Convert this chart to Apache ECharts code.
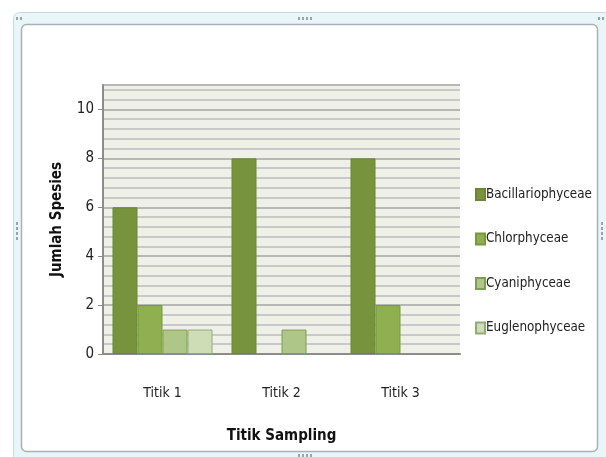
<!DOCTYPE html>
<html><head><meta charset="utf-8">
<script src="https://cdn.jsdelivr.net/npm/echarts@6/dist/echarts.min.js"></script>
<style>html,body{margin:0;padding:0;background:#fff}#c{width:606px;height:457px}</style>
</head><body><div id="c"></div>
<script>
const categories = ['Titik 1', 'Titik 2', 'Titik 3'];
const seriesNames = ['Bacillariophyceae', 'Chlorphyceae', 'Cyaniphyceae', 'Euglenophyceae'];
const bacillariophyceae = [6, 8, 8];
const chlorphyceae = [2, 0, 2];
const cyaniphyceae = [1, 1, 0];
const euglenophyceae = [1, 0, 0];
const yTicks = [0, 2, 4, 6, 8, 10];

const values = [bacillariophyceae, chlorphyceae, cyaniphyceae, euglenophyceae];
const colors = ['#77933C', '#8FAF50', '#AEC788', '#CFDDB7'];
const borders = ['#6B8735', '#769A3E', '#7E9E55', '#92AC76'];
const font = "'Liberation Sans Narrow', 'DejaVu Sans Condensed', Arial, sans-serif";

const chart = echarts.init(document.getElementById('c'), null, {renderer: 'canvas'});
const dots = (x, y, vertical) => [0,1,2,3].map(i => ({
  type: 'rect', silent: true,
  shape: vertical ? {x: x, y: y + i*5, width: 2, height: 3} : {x: x + i*4, y: y, width: 2, height: 3},
  style: {fill: '#9AA3A6'}
}));
chart.setOption({
  animation: false,
  backgroundColor: '#fff',
  graphic: [
    {type: 'rect', silent: true, z: -10, shape: {x: 13.5, y: 12.5, width: 598, height: 450, r: 6},
     style: {fill: '#E8F6F9', stroke: '#C9DADF', lineWidth: 1}},
    {type: 'rect', silent: true, z: -9, shape: {x: 21.5, y: 24.5, width: 576, height: 427, r: 5},
     style: {fill: '#FFFFFF', stroke: '#A9B1B4', lineWidth: 1.5}},
    ...dots(298, 17, false),
    ...dots(298, 454, false),
    ...dots(16, 222, true),
    ...dots(601, 222, true),
    {type: 'rect', silent: true, shape: {x: 16, y: 17, width: 2, height: 3}, style: {fill: '#9AA3A6'}},
    {type: 'rect', silent: true, shape: {x: 20, y: 17, width: 2, height: 3}, style: {fill: '#9AA3A6'}},
    {type: 'rect', silent: true, shape: {x: 598, y: 17, width: 2, height: 3}, style: {fill: '#9AA3A6'}},
    {type: 'rect', silent: true, shape: {x: 602, y: 17, width: 2, height: 3}, style: {fill: '#9AA3A6'}}
  ],
  grid: {left: 103, right: 146, top: 85, bottom: 103, show: true, backgroundColor: '#EFF1E9', borderWidth: 0},
  legend: {
    orient: 'vertical', left: 470, top: 183, itemGap: 31.5,
    itemWidth: 9, itemHeight: 11, icon: 'rect',
    textStyle: {fontFamily: font, fontSize: 13.3, color: '#222', padding: [0,0,0,-4]},
    data: seriesNames
  },
  xAxis: {
    type: 'category', data: categories,
    axisLine: {show: true, lineStyle: {color: '#8C8C8C', width: 2}},
    axisTick: {show: false},
    axisLabel: {fontFamily: font, fontSize: 14, color: '#222', margin: 32},
    name: 'Titik Sampling', nameLocation: 'middle', nameGap: 75,
    nameTextStyle: {fontFamily: font, fontSize: 15, fontWeight: 'bold', color: '#111'}
  },
  yAxis: [
    {
      type: 'value', min: 0, max: 11, interval: 2,
      axisLine: {show: true, lineStyle: {color: '#8C8C8C', width: 2}},
      axisTick: {show: true, length: 5, lineStyle: {color: '#8C8C8C'}},
      axisLabel: {fontFamily: font, fontSize: 15, color: '#222', margin: 9, showMaxLabel: false,
                  formatter: v => yTicks.includes(v) ? String(v) : ''},
      splitLine: {show: true, lineStyle: {color: '#8E8E8E', width: 1.5}},
      name: 'Jumlah Spesies', nameLocation: 'middle', nameGap: 38, nameRotate: 90,
      nameTextStyle: {fontFamily: font, fontSize: 15, fontWeight: 'bold', color: '#111'}
    },
    {
      type: 'value', min: 0, max: 11, interval: 0.4, position: 'left',
      axisLine: {show: false}, axisTick: {show: false}, axisLabel: {show: false},
      splitLine: {show: true, lineStyle: {color: '#BDBDBD', width: 1.5}}
    }
  ],
  series: seriesNames.map((n, i) => ({
    name: n, type: 'bar', yAxisIndex: 0,
    data: values[i].map(v => v === 0 ? '-' : v),
    barWidth: 25, barGap: '0%',
    itemStyle: {color: colors[i], borderColor: borders[i], borderWidth: 1},
    z: 5
  }))
});
</script></body></html>
